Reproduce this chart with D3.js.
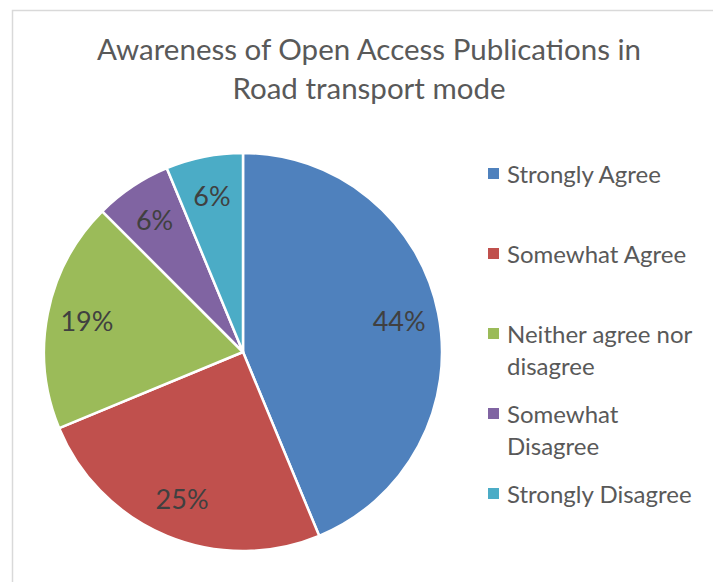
<!DOCTYPE html>
<html lang="en">
<head>
<meta charset="utf-8">
<title>Awareness of Open Access Publications</title>
<script src="https://cdnjs.cloudflare.com/ajax/libs/d3/7.8.5/d3.min.js"></script>
<style>
  body { margin: 0; background: #fff; }
  svg { display: block; font-family: Lato, "Open Sans", sans-serif; }
</style>
</head>
<body>
<script>
var categories = ["Strongly Agree", "Somewhat Agree", "Neither agree nor disagree", "Somewhat Disagree", "Strongly Disagree"];
var shares = [43.75, 25, 18.75, 6.25, 6.25];
var colors = ["#4f81bd", "#c0504d", "#9bbb59", "#8064a2", "#4bacc6"];
var titleLines = ["Awareness of Open Access Publications in", "Road transport mode"];

var w = 713, h = 582;
var cx = 243, cy = 352, r = 199;

var svg = d3.select("body").append("svg")
  .attr("width", w)
  .attr("height", h);

// chart area border
svg.append("rect")
  .attr("x", 12.5).attr("y", 10.5)
  .attr("width", 800).attr("height", 700)
  .attr("fill", "none")
  .attr("stroke", "#d9d9d9")
  .attr("stroke-width", 1.5);

svg.selectAll("text.title")
  .data(titleLines)
  .enter()
  .append("text")
  .attr("class", "title")
  .attr("x", 369)
  .attr("y", function(d, i) { return 60 + i * 39; })
  .attr("text-anchor", "middle")
  .attr("font-size", "29.5px")
  .attr("fill", "#595959")
  .text(function(d) { return d; });

var pie = d3.pie().sort(null).value(function(d) { return d; });
var arcs = pie(shares);
var arc = d3.arc().innerRadius(0).outerRadius(r);
var labelArc = d3.arc().innerRadius(r * 0.8).outerRadius(r * 0.8);

var g = svg.append("g").attr("transform", "translate(" + cx + "," + cy + ")");

g.selectAll("path")
  .data(arcs)
  .enter()
  .append("path")
  .attr("d", arc)
  .attr("fill", function(d, i) { return colors[i]; })
  .attr("stroke", "#fff")
  .attr("stroke-width", 2.5)
  .attr("stroke-linejoin", "round");

g.selectAll("text")
  .data(arcs)
  .enter()
  .append("text")
  .attr("x", function(d) { return labelArc.centroid(d)[0]; })
  .attr("y", function(d) { return labelArc.centroid(d)[1] + 10; })
  .attr("text-anchor", "middle")
  .attr("font-size", "27px")
  .attr("fill", "#404040")
  .text(function(d) { return Math.round(d.value) + "%"; });

// legend with wrapped labels, one entry every 80px
var legend = svg.append("g");
var maxW = 196, lineH = 32, step = 80;
categories.forEach(function(name, i) {
  var y = 183 + i * step;
  var t = legend.append("text")
    .attr("x", 507)
    .attr("font-size", "24px")
    .attr("fill", "#595959");
  var words = name.split(" "), lines = [], cur = "";
  words.forEach(function(wd) {
    var test = cur ? cur + " " + wd : wd;
    t.text(test);
    if (cur && t.node().getComputedTextLength() > maxW) {
      lines.push(cur);
      cur = wd;
    } else {
      cur = test;
    }
  });
  lines.push(cur);
  t.text(null);
  lines.forEach(function(ln, j) {
    t.append("tspan").attr("x", 507).attr("y", y + j * lineH).text(ln);
  });
  legend.append("rect")
    .attr("x", 488).attr("y", y - 15)
    .attr("width", 11).attr("height", 11)
    .attr("fill", colors[i]);
});
</script>
</body>
</html>
